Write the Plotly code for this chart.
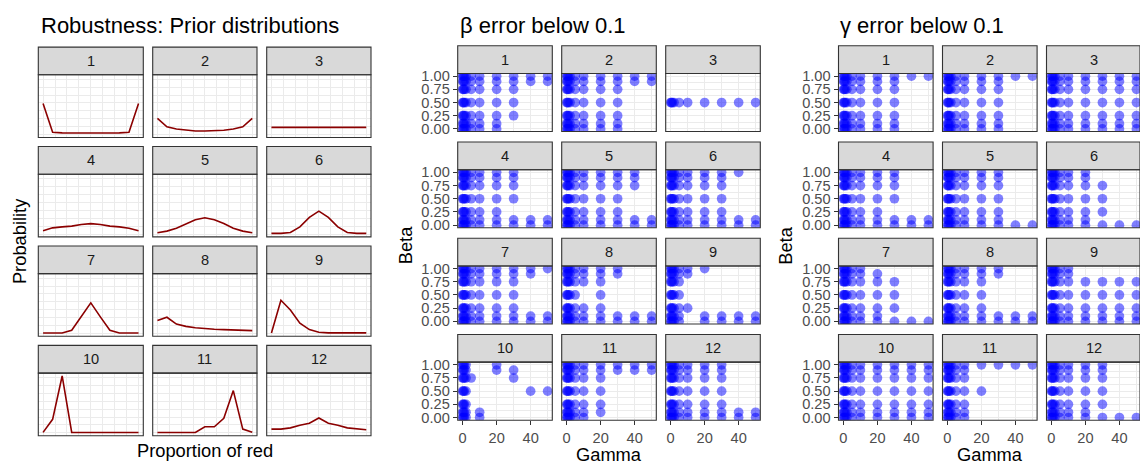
import plotly.graph_objects as go

W, H = 1140, 471

# ---------------- data ----------------
proportion_red = [0.0, 0.1, 0.2, 0.3, 0.4, 0.5, 0.6, 0.7, 0.8, 0.9, 1.0]
prior_1 = [0.392, 0.030, 0.022, 0.020, 0.019, 0.018, 0.019, 0.020, 0.022, 0.030, 0.392]
prior_2 = [0.206, 0.099, 0.070, 0.054, 0.045, 0.045, 0.045, 0.054, 0.070, 0.099, 0.206]
prior_3 = [0.0909] * 11
prior_4 = [0.041, 0.078, 0.090, 0.100, 0.120, 0.132, 0.120, 0.100, 0.090, 0.074, 0.041]
prior_5 = [0.017, 0.037, 0.074, 0.132, 0.180, 0.206, 0.180, 0.132, 0.074, 0.037, 0.017]
prior_6 = [0.008, 0.008, 0.020, 0.090, 0.210, 0.290, 0.210, 0.090, 0.020, 0.008, 0.008]
prior_7 = [0.005, 0.005, 0.005, 0.040, 0.210, 0.387, 0.210, 0.040, 0.005, 0.005, 0.005]
prior_8 = [0.165, 0.205, 0.119, 0.090, 0.073, 0.061, 0.053, 0.048, 0.044, 0.040, 0.036]
prior_9 = [0.007, 0.420, 0.296, 0.131, 0.049, 0.016, 0.007, 0.007, 0.007, 0.007, 0.007]
prior_10 = [0.007, 0.172, 0.720, 0.007, 0.005, 0.005, 0.005, 0.005, 0.005, 0.005, 0.005]
prior_11 = [0.005, 0.005, 0.005, 0.005, 0.005, 0.077, 0.077, 0.184, 0.535, 0.048, 0.007]
prior_12 = [0.048, 0.048, 0.064, 0.098, 0.122, 0.188, 0.122, 0.098, 0.064, 0.048, 0.040]
priors = [prior_1, prior_2, prior_3, prior_4, prior_5, prior_6,
          prior_7, prior_8, prior_9, prior_10, prior_11, prior_12]

# Grid of simulated parameter values
gamma_levels = [0, 0.5, 1, 2, 5, 10, 20, 30, 40, 50]
beta_levels = [1.0, 0.9, 0.75, 0.5, 0.25, 0.1, 0.0]   # mask rows, top to bottom

# "1" = estimate error below 0.1 for (beta row, gamma column)
beta_ok_1 = ["1111111111", "1111111111", "1111111100", "1111111100", "1111111100", "1111111000", "1111111000"]
beta_ok_2 = ["1111111111", "1111111111", "1111111100", "1111111100", "1111111100", "1111111100", "1111111100"]
beta_ok_3 = ["0000000000", "0000000000", "0000000000", "1111111111", "0000000000", "0000000000", "0000000000"]
beta_ok_4 = ["1111111100", "1111111100", "1111111100", "1111111100", "1111111000", "1111111111", "1111111111"]
beta_ok_5 = ["1111111110", "1111111110", "1111111110", "1111111100", "1111111100", "1111111111", "1111111111"]
beta_ok_6 = ["1111111110", "1111111100", "1111111100", "1111111100", "1111111100", "1111111111", "1111111111"]
beta_ok_7 = ["1111111111", "1111111110", "1111111100", "1111111100", "1111111100", "1111111111", "1111111111"]
beta_ok_8 = ["1111111100", "1111111100", "1111111000", "1111101000", "1111111000", "1111111111", "1111111111"]
beta_ok_9 = ["1111111000", "1111110000", "1111100000", "1111100000", "1111110000", "1111101111", "1111101111"]
beta_ok_10 = ["1111001000", "1111001100", "1111100100", "1111000011", "1111000000", "1111010000", "1111010000"]
beta_ok_11 = ["1111111111", "1111111111", "1111111000", "1111111000", "1111111000", "1111111000", "1111110000"]
beta_ok_12 = ["1111111100", "1111111100", "1111111100", "1111111100", "1111111100", "1111111111", "1111111111"]

gamma_ok_1 = ["1111111111", "1111111100", "1111111100", "1111111100", "1111111100", "1111111100", "1111111100"]
gamma_ok_2 = ["1111111111", "1111111100", "1111111100", "1111111100", "1111111100", "1111111100", "1111111100"]
gamma_ok_3 = ["1111111111", "1111111111", "1111111111", "1111111111", "1111111111", "1111111111", "1111111111"]
gamma_ok_4 = ["1111111100", "1111111100", "1111111100", "1111111100", "1111111000", "1111111111", "1111111111"]
gamma_ok_5 = ["1111111100", "1111111100", "1111111100", "1111111100", "1111111100", "1111111100", "1111111111"]
gamma_ok_6 = ["1111111000", "1111111000", "1111111100", "1111111100", "1111111100", "1111111000", "1111111111"]
gamma_ok_7 = ["1111110000", "1111111000", "1111111100", "1111111100", "1111111100", "1111111000", "1111111111"]
gamma_ok_8 = ["1111111100", "1111111100", "1111111000", "1111111000", "1111111000", "1111111111", "1111111111"]
gamma_ok_9 = ["1111110000", "1111110000", "1111111111", "1111111111", "1111111111", "1111111111", "1111111111"]
gamma_ok_10 = ["1111111111", "1111111111", "1111111111", "1111111111", "1111111111", "1111111111", "1111111111"]
gamma_ok_11 = ["1111111111", "1111110000", "1111110000", "1111111000", "1111110000", "1111110000", "1111110000"]
gamma_ok_12 = ["1111111100", "1111111100", "1111111100", "1111111100", "1111111100", "1111111000", "1111111111"]

beta_ok = [beta_ok_1, beta_ok_2, beta_ok_3, beta_ok_4, beta_ok_5, beta_ok_6,
           beta_ok_7, beta_ok_8, beta_ok_9, beta_ok_10, beta_ok_11, beta_ok_12]
gamma_ok = [gamma_ok_1, gamma_ok_2, gamma_ok_3, gamma_ok_4, gamma_ok_5, gamma_ok_6,
            gamma_ok_7, gamma_ok_8, gamma_ok_9, gamma_ok_10, gamma_ok_11, gamma_ok_12]

panel_labels = [str(i) for i in range(1, 13)]
gamma_ticks = [0, 20, 40]
beta_ticks = [0.0, 0.25, 0.5, 0.75, 1.0]
beta_tick_text = ["0.00", "0.25", "0.50", "0.75", "1.00"]

# ---------------- styling / layout ----------------
FONT = "Liberation Sans, Arial, Helvetica, sans-serif"
BORDER = "#333333"
STRIP_FILL = "#D9D9D9"
GRID = "#EBEBEB"
LINE_COLOR = "#8B0000"
POINT_COLOR = "rgba(0,0,255,0.5)"

def fx(x):
    return min(max(x / W, 0.0), 1.0)

def fy(y):
    return 1.0 - y / H

fig = go.Figure()
layout = dict(
    width=W, height=H, margin=dict(l=0, r=0, t=0, b=0),
    paper_bgcolor="white", plot_bgcolor="white", showlegend=False,
)
shapes = []
annotations = []
counter = [0]

STRIP_H = 28.3


def add_panel(x0, x1, top, panel_h, xrange, yrange, xmaj, xmin, ymaj, ymin,
              label, show_x=False, show_y=False, xticks=None, yticks=None, label_x=None):
    counter[0] += 1
    n = counter[0]
    sfx = "" if n == 1 else str(n)
    strip_b = top + STRIP_H
    bottom = strip_b + panel_h
    xa = dict(
        domain=[fx(x0), fx(x1)], range=xrange, anchor="y" + sfx,
        showgrid=True, gridcolor=GRID, gridwidth=1.3, zeroline=False, showline=False,
        tickmode="array", tickvals=xmaj,
        minor=dict(tickvals=xmin, showgrid=True, gridcolor=GRID, gridwidth=0.6),
        showticklabels=show_x, ticks="outside" if show_x else "",
        ticklen=4, tickwidth=1, tickcolor=BORDER,
        tickfont=dict(family=FONT, size=14.6, color="#4D4D4D"), fixedrange=True,
    )
    if xticks is not None:
        xa["ticktext"] = xticks
    ya = dict(
        domain=[fy(bottom), fy(strip_b)], range=yrange, anchor="x" + sfx,
        showgrid=True, gridcolor=GRID, gridwidth=1.3, zeroline=False, showline=False,
        tickmode="array", tickvals=ymaj,
        minor=dict(tickvals=ymin, showgrid=True, gridcolor=GRID, gridwidth=0.6),
        showticklabels=show_y, ticks="outside" if show_y else "",
        ticklen=4, tickwidth=1, tickcolor=BORDER,
        tickfont=dict(family=FONT, size=14.6, color="#4D4D4D"), fixedrange=True,
    )
    if yticks is not None:
        ya["ticktext"] = yticks
    layout["xaxis" + sfx] = xa
    layout["yaxis" + sfx] = ya
    shapes.append(dict(type="rect", xref="paper", yref="paper",
                       x0=fx(x0), x1=fx(x1), y0=fy(strip_b), y1=fy(top),
                       fillcolor=STRIP_FILL, line=dict(color=BORDER, width=1.1), layer="above"))
    shapes.append(dict(type="rect", xref="paper", yref="paper",
                       x0=fx(x0), x1=fx(x1), y0=fy(bottom), y1=fy(strip_b),
                       fillcolor="rgba(0,0,0,0)", line=dict(color=BORDER, width=1.1), layer="above"))
    lx = label_x if label_x is not None else (x0 + x1) / 2
    annotations.append(dict(xref="paper", yref="paper", x=fx(lx),
                            y=fy(top + STRIP_H / 2), text=label, showarrow=False,
                            xanchor="center", yanchor="middle",
                            font=dict(family=FONT, size=14.6, color="#1A1A1A")))
    return "x" + sfx, "y" + sfx


# ---- left chart: prior distributions ----
left_cols = [(38.3, 143.3), (152.7, 257.0), (266.7, 371.0)]
left_tops = [43.0, 144.6, 246.2, 347.8]
for i, vals in enumerate(priors):
    r, c = divmod(i, 3)
    x0, x1 = left_cols[c]
    xr, yr = add_panel(x0, x1, left_tops[r], 64.0, [-0.05, 1.05], [-0.036, 0.756],
                       [0, 0.25, 0.5, 0.75, 1.0], [0.125, 0.375, 0.625, 0.875],
                       [0, 0.2, 0.4, 0.6], [0.1, 0.3, 0.5, 0.7], panel_labels[i])
    fig.add_trace(go.Scatter(x=proportion_red, y=vals, mode="lines", xaxis=xr, yaxis=yr,
                             line=dict(color=LINE_COLOR, width=1.6), hoverinfo="skip"))

# ---- scatter charts ----
sc_tops = [41.7, 140.0, 238.3, 336.6]
beta_cols = [(457.7, 552.3), (561.7, 656.3), (665.7, 760.3)]
gamma_cols = [(838.5, 933.1), (942.5, 1037.1), (1046.5, 1141.1)]
PX_PER_GAMMA = 1.70


def scatter_chart(cols, masks):
    for i, mask in enumerate(masks):
        r, c = divmod(i, 3)
        x0, x1 = cols[c]
        left_val = -2.9
        x1c = min(x1, W)
        right_val = left_val + (x1c - x0) / PX_PER_GAMMA
        xr, yr = add_panel(x0, x1c, sc_tops[r], 59.3, [left_val, right_val], [-0.05, 1.05],
                           gamma_ticks, [10, 30, 50], beta_ticks, [0.125, 0.375, 0.625, 0.875],
                           panel_labels[i], show_x=(r == 3), show_y=(c == 0),
                           xticks=[str(g) for g in gamma_ticks], yticks=beta_tick_text,
                           label_x=(x0 + x1) / 2)
        xs, ys = [], []
        for bi, row in enumerate(mask):
            for gi, flag in enumerate(row):
                if flag == "1":
                    xs.append(gamma_levels[gi])
                    ys.append(beta_levels[bi])
        fig.add_trace(go.Scatter(x=xs, y=ys, mode="markers", xaxis=xr, yaxis=yr,
                                 marker=dict(size=9.7, color=POINT_COLOR, line=dict(width=0)),
                                 hoverinfo="skip"))


scatter_chart(beta_cols, beta_ok)
scatter_chart(gamma_cols, gamma_ok)

# ---- titles and axis titles ----
def text(x, y, s, size, xanchor="left", angle=0, color="black"):
    annotations.append(dict(xref="paper", yref="paper", x=fx(x), y=fy(y), text=s,
                            showarrow=False, xanchor=xanchor, yanchor="middle", textangle=angle,
                            font=dict(family=FONT, size=size, color=color)))

text(38.5, 21, "Robustness: Prior distributions", 22)
text(457.7, 21, "β error below 0.1", 22)
text(838.3, 21, "γ error below 0.1", 22)

text(19.7, 241.5, "Probability", 18.3, xanchor="center", angle=-90)
text(204.7, 455.5, "Proportion of red", 18.3, xanchor="center")

text(405.5, 246, "Beta", 18.3, xanchor="center", angle=-90)
text(609.2, 459, "Gamma", 18.3, xanchor="center")
text(786.0, 246, "Beta", 18.3, xanchor="center", angle=-90)
text(989.5, 459, "Gamma", 18.3, xanchor="center")

layout["shapes"] = shapes
layout["annotations"] = annotations
fig.update_layout(**layout)
fig.write_html(
    "out.html",
    config={"displayModeBar": False},
    post_script="document.body.style.margin='0';document.body.style.overflow='hidden';",
)
